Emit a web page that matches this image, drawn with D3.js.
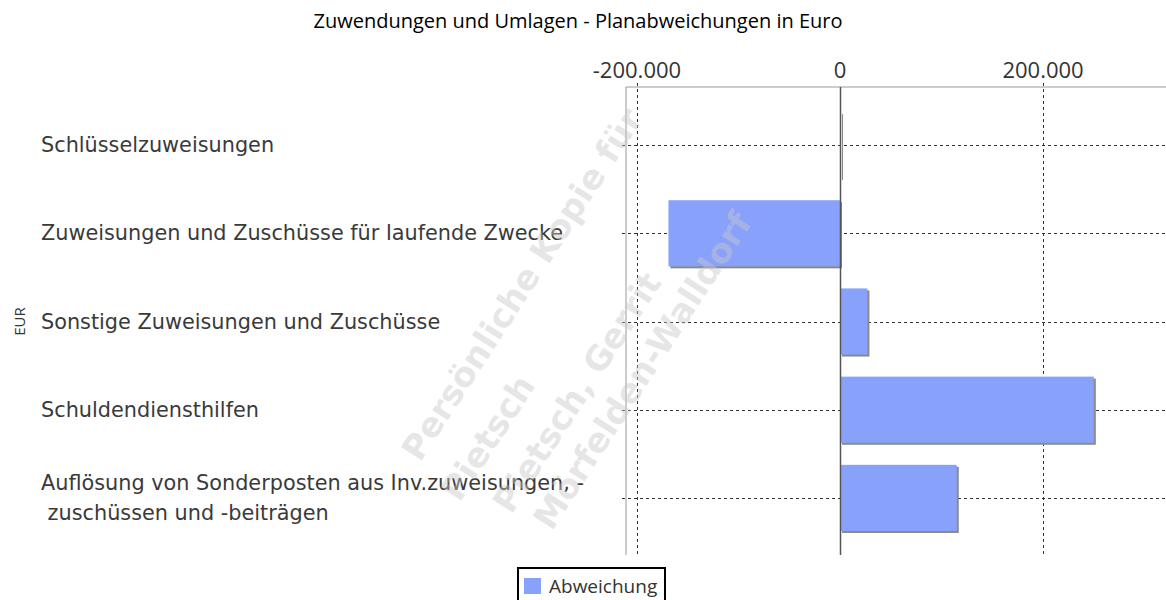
<!DOCTYPE html>
<meta charset="utf-8">
<head>
    <script type="text/javascript" src="https://cdn.jsdelivr.net/npm/d3@7"></script>
    <style>
        body { margin: 0; background: #fff; }
        svg { display: block; }
    </style>
    <title>Zuwendungen und Umlagen</title>
</head>
<body>
<script>

    // data
    var categories = [
        "Schlüsselzuweisungen",
        "Zuweisungen und Zuschüsse für laufende Zwecke",
        "Sonstige Zuweisungen und Zuschüsse",
        "Schuldendiensthilfen",
        "Auflösung von Sonderposten aus Inv.zuweisungen, -| zuschüssen und -beiträgen"
    ];
    var abweichung = [1000, -169000, 27000, 250000, 115000];
    var xTicks = [-200000, 0, 200000];
    var seriesName = "Abweichung";
    var watermark = ["Persönliche Kopie für", "Pietsch", "Pietsch, Gerrit", "Mörfelden-Walldorf"];

    var width = 1166, height = 600;
    var plot = {left: 626, right: 1166, top: 87, bottom: 555};

    var svg = d3.select("body")
        .append("svg")
        .attr("width", width)
        .attr("height", height);

    var de = d3.formatLocale({decimal: ",", thousands: ".", grouping: [3], currency: ["", " €"], minus: "-"});
    var fmt = de.format(",d");

    // 0 sits at x=840, 200.000 at x=1043
    var x = d3.scaleLinear()
        .domain([-210800, 321100])
        .range([plot.left, plot.right]);

    var y = d3.scaleBand()
        .domain(categories)
        .range([101, 542])
        .paddingInner(0.25)
        .paddingOuter(0.125);

    // title
    svg.append("text")
        .attr("x", 578)
        .attr("y", 28)
        .attr("text-anchor", "middle")
        .attr("font-family", "Open Sans")
        .attr("font-size", "20px")
        .attr("fill", "#000")
        .text("Zuwendungen und Umlagen - Planabweichungen in Euro");

    // tick labels on top
    svg.append("g").selectAll("text")
        .data(xTicks)
        .join("text")
        .attr("x", d => x(d))
        .attr("y", 78)
        .attr("text-anchor", "middle")
        .attr("font-family", "Open Sans")
        .attr("font-size", "22px")
        .attr("fill", "#333")
        .text(d => fmt(d));

    // frame
    svg.append("line")
        .attr("x1", plot.left).attr("x2", plot.right)
        .attr("y1", plot.top).attr("y2", plot.top)
        .attr("stroke", "#999").attr("stroke-width", 1);
    svg.append("line")
        .attr("x1", plot.left).attr("x2", plot.left)
        .attr("y1", plot.top).attr("y2", plot.bottom)
        .attr("stroke", "#999").attr("stroke-width", 1);

    // grid
    svg.append("g").selectAll("line")
        .data(xTicks.filter(d => d !== 0))
        .join("line")
        .attr("x1", d => Math.round(x(d)) + 0.5)
        .attr("x2", d => Math.round(x(d)) + 0.5)
        .attr("y1", plot.top - 4)
        .attr("y2", plot.bottom)
        .attr("stroke", "#333")
        .attr("stroke-dasharray", "3,3");

    svg.append("g").selectAll("line")
        .data(categories)
        .join("line")
        .attr("x1", plot.left - 4)
        .attr("x2", plot.right)
        .attr("y1", d => Math.round(y(d) + y.bandwidth() / 2) + 0.5)
        .attr("y2", d => Math.round(y(d) + y.bandwidth() / 2) + 0.5)
        .attr("stroke", "#333")
        .attr("stroke-dasharray", "3,3");

    // bars with a small shadow
    var bars = svg.append("g");
    bars.selectAll("rect.shadow")
        .data(abweichung)
        .join("rect")
        .attr("class", "shadow")
        .attr("x", d => Math.min(x(0), x(d)) + 2)
        .attr("y", (d, i) => y(categories[i]) + 2)
        .attr("width", d => Math.abs(x(d) - x(0)))
        .attr("height", y.bandwidth())
        .attr("fill", "#8a8a8a");
    bars.selectAll("rect.bar")
        .data(abweichung)
        .join("rect")
        .attr("class", "bar")
        .attr("x", d => Math.min(x(0), x(d)))
        .attr("y", (d, i) => y(categories[i]))
        .attr("width", d => Math.abs(x(d) - x(0)))
        .attr("height", y.bandwidth())
        .attr("fill", "#88a2fc");

    // zero line
    svg.append("line")
        .attr("x1", Math.round(x(0)) + 0.5).attr("x2", Math.round(x(0)) + 0.5)
        .attr("y1", plot.top).attr("y2", plot.bottom)
        .attr("stroke", "#555").attr("stroke-width", 1.5);

    // category labels
    var labels = svg.append("g").selectAll("text")
        .data(categories)
        .join("text")
        .attr("font-family", "DejaVu Sans")
        .attr("font-size", "20.8px")
        .attr("fill", "#3a3a3a")
        .attr("transform", d => {
            var n = d.split("|").length;
            var cy = y(d) + y.bandwidth() / 2 + 7 - (n - 1) * 14.5;
            return "translate(41," + cy + ")";
        });
    labels.selectAll("tspan")
        .data(d => d.split("|"))
        .join("tspan")
        .attr("x", 0)
        .attr("dy", (d, i) => i === 0 ? 0 : 30)
        .attr("xml:space", "preserve")
        .style("white-space", "pre")
        .text(d => d);

    // y axis title
    svg.append("text")
        .attr("transform", "translate(25," + (y(categories[2]) + y.bandwidth() / 2) + ") rotate(-90)")
        .attr("text-anchor", "middle")
        .attr("font-family", "Open Sans")
        .attr("font-size", "15px")
        .attr("fill", "#333")
        .text("EUR");

    // legend
    var legend = svg.append("g").attr("transform", "translate(517,567)");
    legend.append("rect")
        .attr("x", 1).attr("y", 1)
        .attr("width", 147).attr("height", 40)
        .attr("fill", "#fff")
        .attr("stroke", "#000")
        .attr("stroke-width", 2);
    legend.append("rect")
        .attr("x", 7).attr("y", 11)
        .attr("width", 17).attr("height", 16)
        .attr("fill", "#88a2fc");
    legend.append("text")
        .attr("x", 32).attr("y", 26)
        .attr("font-family", "Open Sans")
        .attr("font-size", "19px")
        .attr("fill", "#333")
        .text(seriesName);

    // watermark
    var wm = svg.append("g")
        .attr("transform", "translate(420,463) rotate(-57)")
        .attr("pointer-events", "none");
    wm.selectAll("text")
        .data(watermark)
        .join("text")
        .attr("x", (d, i) => [0, -12, 6, 14][i])
        .attr("y", (d, i) => [0, 55, 105, 148][i])
        .attr("font-family", "DejaVu Sans")
        .attr("font-weight", "bold")
        .attr("font-size", "34px")
        .attr("fill", "#c8c8c8")
        .attr("fill-opacity", 0.45)
        .text(d => d);

</script>
</body>
</html>
